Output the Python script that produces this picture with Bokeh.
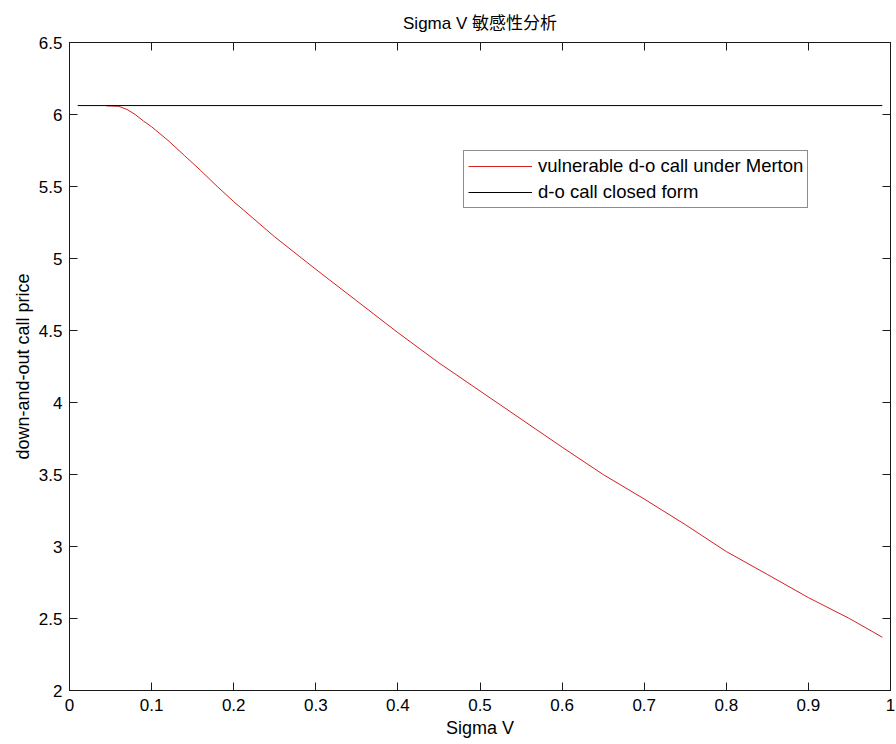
from bokeh.plotting import figure
from bokeh.models import Range1d, FixedTicker, LinearAxis, Legend, LegendItem
from bokeh.embed import file_html
from bokeh.resources import INLINE

# Volatility of the firm's assets (Sigma V)
sigma_v = [0.045, 0.06, 0.07, 0.08, 0.09, 0.10, 0.12, 0.14, 0.16, 0.18, 0.20,
           0.25, 0.30, 0.35, 0.40, 0.45, 0.50, 0.55, 0.60, 0.65, 0.70, 0.75,
           0.80, 0.85, 0.90, 0.95, 0.99]
# Vulnerable down-and-out call price under the Merton model
vulnerable_price = [6.06, 6.057, 6.035, 6.0, 5.955, 5.915, 5.82, 5.715, 5.61, 5.50, 5.395,
                    5.15, 4.925, 4.705, 4.485, 4.275, 4.08, 3.885, 3.69, 3.50, 3.33, 3.152,
                    2.965, 2.806, 2.645, 2.50, 2.37]
# Closed-form down-and-out call price (does not depend on Sigma V)
closed_sigma = [0.01, 0.99]
closed_price = [6.062, 6.062]

x_ticks = [0, 0.1, 0.2, 0.3, 0.4, 0.5, 0.6, 0.7, 0.8, 0.9, 1.0]
x_tick_labels = ["0", "0.1", "0.2", "0.3", "0.4", "0.5", "0.6", "0.7", "0.8", "0.9", "1"]
y_ticks = [2, 2.5, 3, 3.5, 4, 4.5, 5, 5.5, 6, 6.5]
y_tick_labels = ["2", "2.5", "3", "3.5", "4", "4.5", "5", "5.5", "6", "6.5"]

FONT = "Liberation Sans, Arial, Noto Sans CJK SC"
INK = "#1a1a1a"

p = figure(width=896, height=744, output_backend="svg", toolbar_location=None,
           x_range=Range1d(0, 1), y_range=Range1d(2, 6.5),
           min_border_left=69, min_border_right=6, min_border_top=42, min_border_bottom=54,
           title="Sigma V 敏感性分析")
p.background_fill_color = "white"
p.border_fill_color = "white"
p.outline_line_color = INK
p.outline_line_width = 1
p.grid.visible = False

p.title.align = "center"
p.title.text_font = FONT
p.title.text_font_size = "17px"
p.title.text_font_style = "normal"
p.title.text_color = "black"
p.title.standoff = 19


def style_axis(ax, ticks, labels, show_labels=True):
    ax.ticker = FixedTicker(ticks=ticks)
    ax.major_label_overrides = {t: (l if show_labels else "") for t, l in zip(ticks, labels)}
    ax.major_tick_in = 8
    ax.major_tick_out = 0
    ax.minor_tick_in = 0
    ax.minor_tick_out = 0
    ax.major_tick_line_color = INK
    ax.axis_line_color = INK
    ax.major_label_text_font = FONT
    ax.major_label_text_font_size = "17px" if show_labels else "0px"
    ax.major_label_text_color = "black"
    ax.axis_label_text_font = FONT
    ax.axis_label_text_font_size = "18px"
    ax.axis_label_text_font_style = "normal"
    ax.axis_label_text_color = "black"


xa = p.xaxis[0]
style_axis(xa, x_ticks, x_tick_labels)
xa.axis_label = "Sigma V"
xa.major_label_standoff = 8
xa.axis_label_standoff = 4

ya = p.yaxis[0]
style_axis(ya, y_ticks, y_tick_labels)
ya.axis_label = "down-and-out call price"
ya.major_label_standoff = 7
ya.axis_label_standoff = 3

top = LinearAxis()
style_axis(top, x_ticks, x_tick_labels, show_labels=False)
top.major_label_standoff = 0
p.add_layout(top, "above")

right = LinearAxis()
style_axis(right, y_ticks, y_tick_labels, show_labels=False)
right.major_label_standoff = 0
p.add_layout(right, "right")

r_vuln = p.line(sigma_v, vulnerable_price, line_color="#d42020", line_width=1)
r_closed = p.line(closed_sigma, closed_price, line_color="black", line_width=1)

legend = Legend(items=[LegendItem(label="vulnerable d-o call under Merton", renderers=[r_vuln]),
                       LegendItem(label="d-o call closed form", renderers=[r_closed])],
                location=(394, 482))
legend.label_text_font = FONT
legend.label_text_font_size = "18.5px"
legend.label_text_color = "black"
legend.glyph_width = 64
legend.glyph_height = 22
legend.label_height = 22
legend.label_standoff = 6
legend.padding = 4
legend.spacing = 4
legend.margin = 0
legend.border_line_color = INK
legend.border_line_width = 1
legend.background_fill_color = "white"
legend.background_fill_alpha = 1
p.add_layout(legend, "center")

open("out.html", "w").write(file_html(p, INLINE))
